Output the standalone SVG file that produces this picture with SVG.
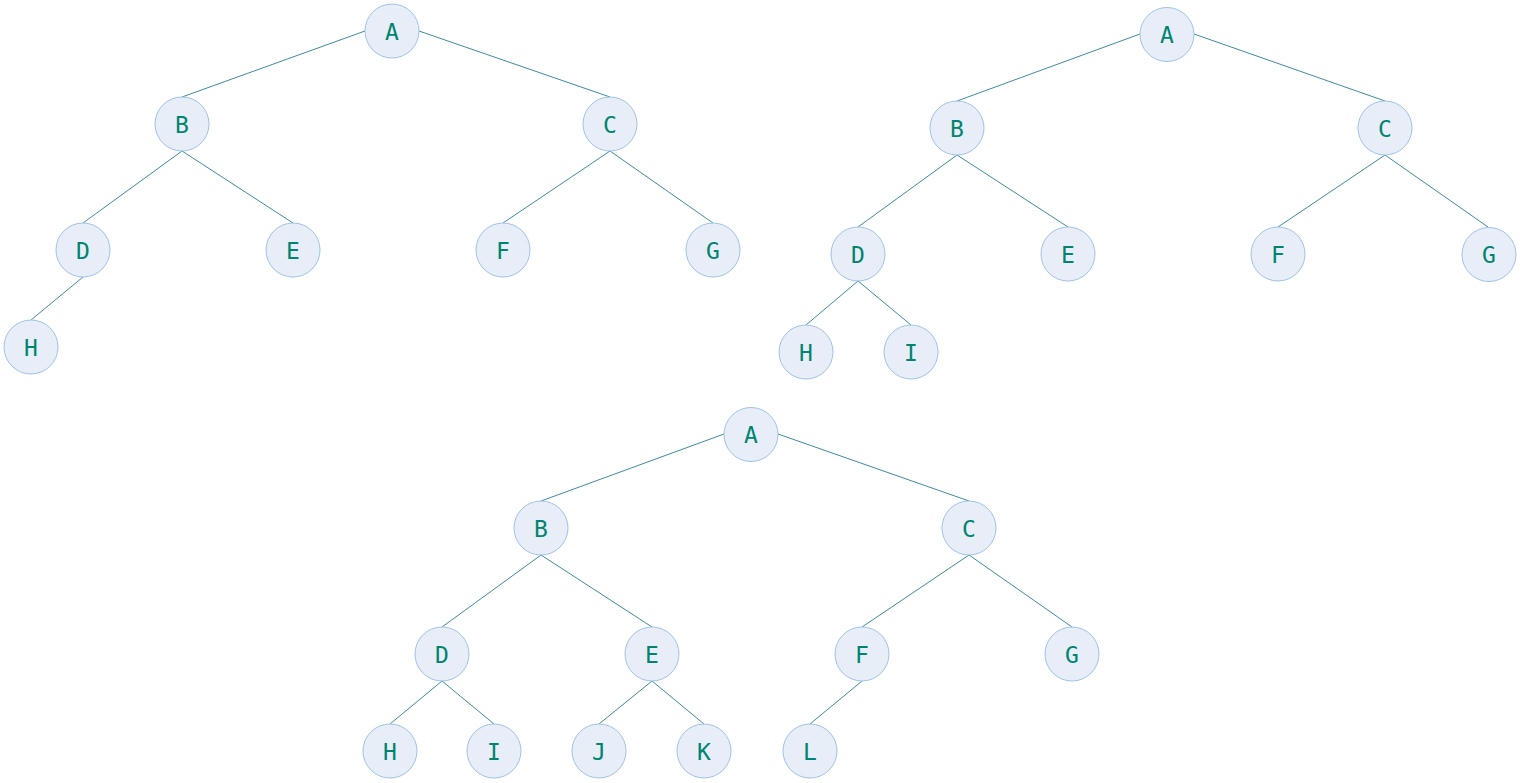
<svg xmlns="http://www.w3.org/2000/svg" width="1520" height="783" viewBox="0 0 1520 783">
<style>
.n circle{fill:#e8eef8;stroke:#9fc2e8;stroke-width:1}
.n text{font-family:"DejaVu Sans Mono","Liberation Mono",monospace;font-size:23px;fill:#00846f;text-anchor:middle}
#edges line{stroke:#3c8c9c;stroke-width:1}
</style>
<rect width="1520" height="783" fill="#ffffff"/>
<g id="edges">
<!-- tree 1 -->
<line x1="365" y1="31" x2="182" y2="97"/>
<line x1="419" y1="31" x2="610" y2="97"/>
<line x1="182" y1="151" x2="83" y2="223"/>
<line x1="182" y1="151" x2="293" y2="223"/>
<line x1="610" y1="151" x2="503" y2="223"/>
<line x1="610" y1="151" x2="713" y2="223"/>
<line x1="83" y1="277" x2="31" y2="320"/>
<!-- tree 2 -->
<line x1="1140" y1="34" x2="957" y2="101"/>
<line x1="1194" y1="34" x2="1385" y2="101"/>
<line x1="957" y1="155" x2="858" y2="227"/>
<line x1="957" y1="155" x2="1068" y2="227"/>
<line x1="1385" y1="155" x2="1278" y2="227"/>
<line x1="1385" y1="155" x2="1488" y2="227"/>
<line x1="858" y1="281" x2="806" y2="325"/>
<line x1="858" y1="281" x2="911" y2="325"/>
<!-- tree 3 -->
<line x1="724" y1="434" x2="541" y2="501"/>
<line x1="778" y1="434" x2="969" y2="501"/>
<line x1="541" y1="555" x2="442" y2="627"/>
<line x1="541" y1="555" x2="652" y2="627"/>
<line x1="969" y1="555" x2="862" y2="627"/>
<line x1="969" y1="555" x2="1072" y2="627"/>
<line x1="442" y1="681" x2="390" y2="724"/>
<line x1="442" y1="681" x2="494" y2="724"/>
<line x1="652" y1="681" x2="599" y2="724"/>
<line x1="652" y1="681" x2="704" y2="724"/>
<line x1="862" y1="681" x2="810" y2="724"/>
</g>
<!-- tree 1 nodes -->
<g id="t1-A" class="n"><circle cx="392" cy="31" r="27"/><text x="392" y="39.5">A</text></g>
<g id="t1-B" class="n"><circle cx="182" cy="124" r="27"/><text x="182" y="132.5">B</text></g>
<g id="t1-C" class="n"><circle cx="610" cy="124" r="27"/><text x="610" y="132.5">C</text></g>
<g id="t1-D" class="n"><circle cx="83" cy="250" r="27"/><text x="83" y="258.5">D</text></g>
<g id="t1-E" class="n"><circle cx="293" cy="250" r="27"/><text x="293" y="258.5">E</text></g>
<g id="t1-F" class="n"><circle cx="503" cy="250" r="27"/><text x="503" y="258.5">F</text></g>
<g id="t1-G" class="n"><circle cx="713" cy="250" r="27"/><text x="713" y="258.5">G</text></g>
<g id="t1-H" class="n"><circle cx="31" cy="347" r="27"/><text x="31" y="355.5">H</text></g>
<!-- tree 2 nodes -->
<g id="t2-A" class="n"><circle cx="1167" cy="34.5" r="27"/><text x="1167" y="43">A</text></g>
<g id="t2-B" class="n"><circle cx="957" cy="128" r="27"/><text x="957" y="136.5">B</text></g>
<g id="t2-C" class="n"><circle cx="1385" cy="128" r="27"/><text x="1385" y="136.5">C</text></g>
<g id="t2-D" class="n"><circle cx="858" cy="254" r="27"/><text x="858" y="262.5">D</text></g>
<g id="t2-E" class="n"><circle cx="1068" cy="254" r="27"/><text x="1068" y="262.5">E</text></g>
<g id="t2-F" class="n"><circle cx="1278" cy="254" r="27"/><text x="1278" y="262.5">F</text></g>
<g id="t2-G" class="n"><circle cx="1489" cy="254.5" r="27"/><text x="1489" y="263">G</text></g>
<g id="t2-H" class="n"><circle cx="806" cy="352" r="27"/><text x="806" y="360.5">H</text></g>
<g id="t2-I" class="n"><circle cx="911" cy="352" r="27"/><text x="911" y="360.5">I</text></g>
<!-- tree 3 nodes -->
<g id="t3-A" class="n"><circle cx="751" cy="434.5" r="27"/><text x="751" y="443">A</text></g>
<g id="t3-B" class="n"><circle cx="541" cy="528" r="27"/><text x="541" y="536.5">B</text></g>
<g id="t3-C" class="n"><circle cx="969" cy="528" r="27"/><text x="969" y="536.5">C</text></g>
<g id="t3-D" class="n"><circle cx="442" cy="654" r="27"/><text x="442" y="662.5">D</text></g>
<g id="t3-E" class="n"><circle cx="652" cy="654" r="27"/><text x="652" y="662.5">E</text></g>
<g id="t3-F" class="n"><circle cx="862" cy="654" r="27"/><text x="862" y="662.5">F</text></g>
<g id="t3-G" class="n"><circle cx="1072" cy="654" r="27"/><text x="1072" y="662.5">G</text></g>
<g id="t3-H" class="n"><circle cx="390" cy="751" r="27"/><text x="390" y="759.5">H</text></g>
<g id="t3-I" class="n"><circle cx="494" cy="751" r="27"/><text x="494" y="759.5">I</text></g>
<g id="t3-J" class="n"><circle cx="599" cy="751" r="27"/><text x="599" y="759.5">J</text></g>
<g id="t3-K" class="n"><circle cx="704" cy="751" r="27"/><text x="704" y="759.5">K</text></g>
<g id="t3-L" class="n"><circle cx="810" cy="751" r="27"/><text x="810" y="759.5">L</text></g>
</svg>
